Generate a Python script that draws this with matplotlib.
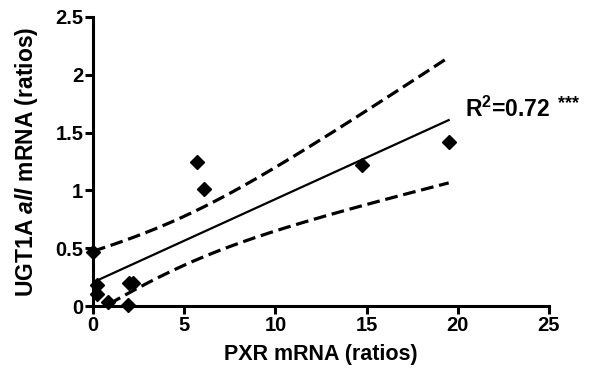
import numpy as np
import matplotlib
matplotlib.use("Agg")
import matplotlib.pyplot as plt

# data
pxr = np.array([0.0, 0.2, 0.2, 0.8, 1.9, 2.0, 2.2, 5.7, 6.1, 14.75, 19.5])
ugt = np.array([0.47, 0.18, 0.10, 0.035, 0.01, 0.2, 0.2, 1.245, 1.01, 1.22, 1.42])
x_ticks = [0, 5, 10, 15, 20, 25]
y_ticks = [0, 0.5, 1, 1.5, 2, 2.5]
y_tick_labels = ["0", "0.5", "1", "1.5", "2", "2.5"]

plt.rcParams["font.family"] = ["Liberation Sans", "DejaVu Sans"]
plt.rcParams["font.weight"] = "bold"
plt.rcParams["mathtext.fontset"] = "custom"
plt.rcParams["mathtext.rm"] = "Liberation Sans:bold"
plt.rcParams["mathtext.bf"] = "Liberation Sans:bold"
plt.rcParams["mathtext.it"] = "Liberation Sans:italic:bold"
plt.rcParams["mathtext.bfit"] = "Liberation Sans:italic:bold"

# linear regression with 95% confidence band
n = len(pxr)
slope, intercept = np.polyfit(pxr, ugt, 1)
resid = ugt - (slope * pxr + intercept)
s = np.sqrt(np.sum(resid ** 2) / (n - 2))
sxx = np.sum((pxr - pxr.mean()) ** 2)
t_crit = 2.262  # t(0.975, df=9)
xs = np.linspace(pxr.min(), pxr.max(), 200)
fit = slope * xs + intercept
half = t_crit * s * np.sqrt(1 / n + (xs - pxr.mean()) ** 2 / sxx)

fig = plt.figure(figsize=(6, 3.83), dpi=100)
ax = fig.add_axes([0.155, 0.201, 0.76, 0.755])

ax.plot(xs, fit, color="black", lw=1.6)
ax.plot(xs, fit + half, color="black", lw=2.3, dashes=(4, 1.8))
ax.plot(xs, fit - half, color="black", lw=2.3, dashes=(4, 1.8))
ax.plot(pxr, ugt, "D", color="black", ms=7.5, clip_on=False, zorder=5)

ax.set_xlim(0, 25)
ax.set_ylim(0, 2.5)
ax.set_xticks(x_ticks)
ax.set_yticks(y_ticks)
ax.set_yticklabels(y_tick_labels)
for side in ["top", "right"]:
    ax.spines[side].set_visible(False)
for side in ["left", "bottom"]:
    ax.spines[side].set_linewidth(2.2)
ax.tick_params(width=2.2, length=5.5, labelsize=14.5, pad=1.5)
for lab in ax.get_xticklabels() + ax.get_yticklabels():
    lab.set_fontweight("bold")

ax.set_xlabel("PXR mRNA (ratios)", fontsize=15.5, fontweight="bold", labelpad=7)
ax.set_ylabel(r"UGT1A $\mathbfit{all}$ mRNA (ratios)", fontsize=16.5,
              fontweight="bold", labelpad=11)

r2 = slope ** 2 * sxx / np.sum((ugt - ugt.mean()) ** 2)
ax.text(20.4, 1.70, r"R$^{\mathbf{2}}$=" + f"{r2:.2f}", fontsize=16.5,
        fontweight="bold", va="center", ha="left", clip_on=False)
ax.text(25.5, 1.75, "***", fontsize=13, fontweight="bold",
        va="center", ha="left", clip_on=False)

fig.savefig("out.png", dpi=100)
